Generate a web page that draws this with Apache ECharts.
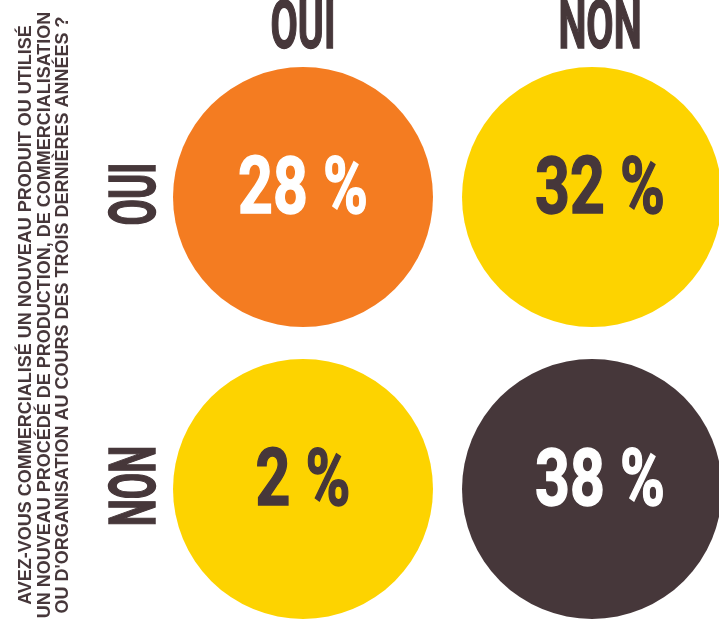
<!DOCTYPE html>
<html>
<head>
<meta charset="utf-8">
<script src="https://cdn.jsdelivr.net/npm/echarts@6/dist/echarts.min.js"></script>
<style>
  html, body { margin: 0; padding: 0; background: #fff; }
  #main { width: 719px; height: 622px; }
</style>
</head>
<body>
<div id="main"></div>
<script>
// colonnes : nouveau produit / procédé ? lignes : idem (tableau croisé)
const colCats = ['OUI', 'NON'];
const rowCats = ['OUI', 'NON'];
const shares = [
  [28, 32],
  [2, 38]
];
const question = [
  'AVEZ-VOUS COMMERCIALISÉ UN NOUVEAU PRODUIT OU UTILISÉ',
  'UN NOUVEAU PROCÉDÉ DE PRODUCTION, DE COMMERCIALISATION',
  "OU D'ORGANISATION AU COURS DES TROIS DERNIÈRES ANNÉES ?"
];

const BROWN = '#46373a';
const fills = [['#f47c21', '#fdd300'], ['#fdd300', BROWN]];
const inks = [['#ffffff', BROWN], [BROWN, '#ffffff']];
const colShift = [0, 8];
const R = 130;

const cells = [];
rowCats.forEach((r, ri) => {
  colCats.forEach((c, ci) => {
    cells.push([ci, ri, shares[ri][ci]]);
  });
});

const chart = echarts.init(document.getElementById('main'));

chart.setOption({
  animation: false,
  // centres des cercles sur les bords de la grille
  grid: { left: 303, right: 127, top: 197, bottom: 133 },
  xAxis: { type: 'category', data: colCats, boundaryGap: false, show: false },
  yAxis: { type: 'category', data: rowCats, boundaryGap: false, inverse: true, show: false },
  series: [{
    type: 'custom',
    clip: false,
    data: cells,
    renderItem: function (params, api) {
      const ci = api.value(0), ri = api.value(1);
      const p = api.coord([ci, ri]);
      return {
        type: 'group',
        children: [
          { type: 'circle', shape: { cx: p[0], cy: p[1], r: R }, style: { fill: fills[ri][ci] } },
          {
            type: 'text', x: p[0] + colShift[ci], y: p[1] - 4, scaleX: 0.76,
            style: {
              text: api.value(2) + ' %', fontFamily: 'Roboto', fontWeight: 'bold', fontSize: 80,
              fill: inks[ri][ci], stroke: inks[ri][ci], lineWidth: 1.5,
              align: 'center', verticalAlign: 'middle'
            }
          }
        ]
      };
    }
  }]
});

// titres de colonnes, de lignes et question, placés via les axes
const heads = [];
colCats.forEach((c, i) => {
  heads.push({
    type: 'text', x: chart.convertToPixel({ xAxisIndex: 0 }, c) + colShift[i], y: 31, scaleX: 0.6,
    style: { text: c, fontFamily: 'Roboto', fontWeight: 'bold', fontSize: 66, fill: BROWN,
      stroke: BROWN, lineWidth: 1.5, align: 'center', verticalAlign: 'middle' }
  });
});
rowCats.forEach((r) => {
  heads.push({
    type: 'text', x: 139, y: chart.convertToPixel({ yAxisIndex: 0 }, r) - 3, scaleX: 0.6,
    rotation: Math.PI / 2,
    style: { text: r, fontFamily: 'Roboto', fontWeight: 'bold', fontSize: 64, fill: BROWN,
      stroke: BROWN, lineWidth: 1.5, align: 'center', verticalAlign: 'middle' }
  });
});
heads.push({
  type: 'text', x: 45, y: 315, rotation: Math.PI / 2,
  style: { text: question.join('\n'), fontFamily: 'Liberation Sans', fontWeight: 'bold', fontSize: 18,
    lineHeight: 18.5, fill: BROWN, align: 'center', verticalAlign: 'middle' }
});
chart.setOption({ graphic: heads });
</script>
</body>
</html>
